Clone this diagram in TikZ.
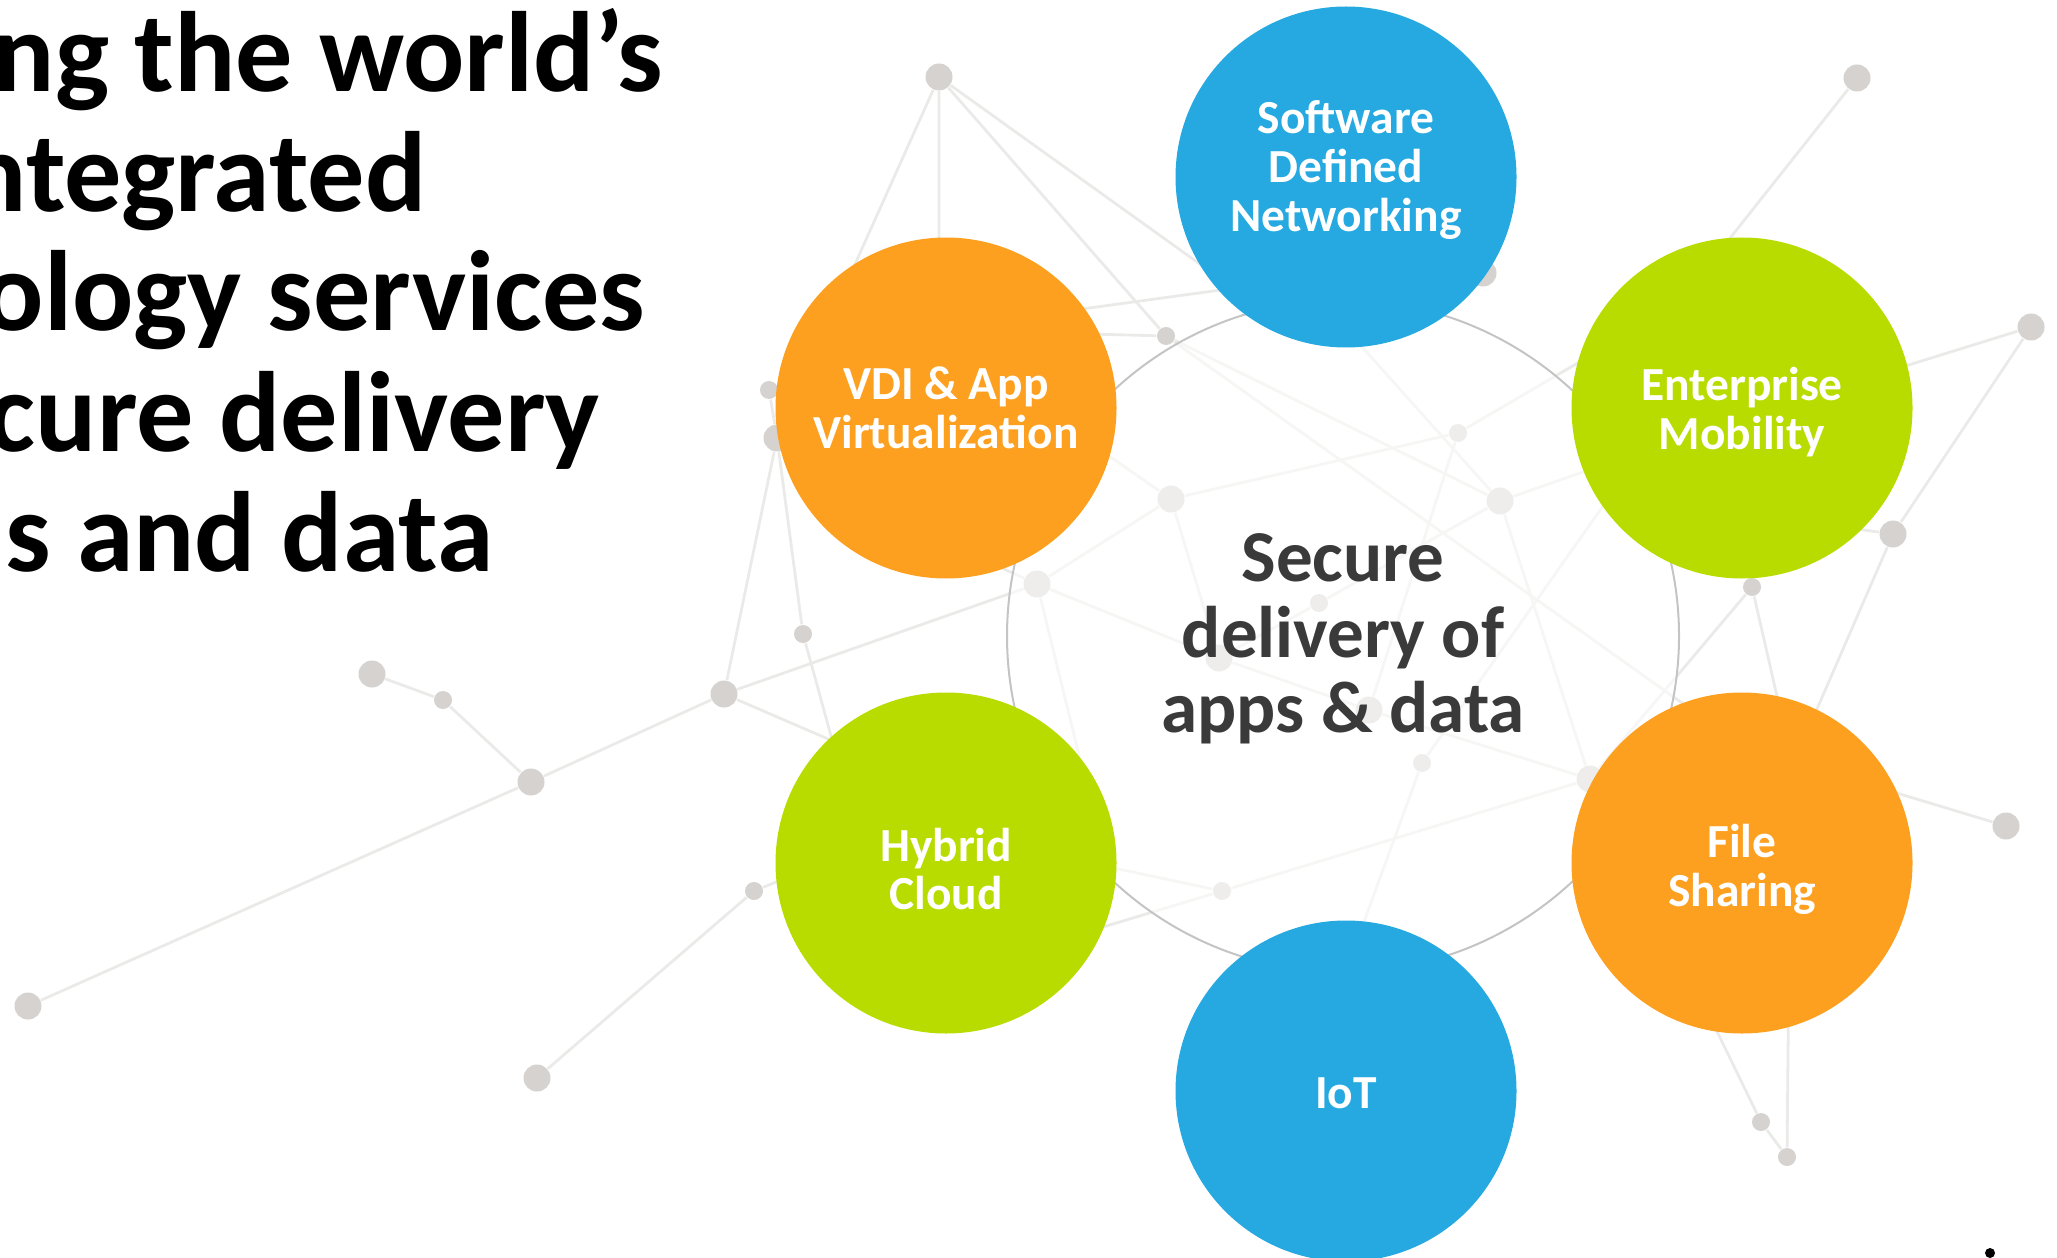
\documentclass[tikz,border=0pt]{standalone}
\usepackage{fontspec}
\setmainfont{Carlito}
\usepackage{xcolor}
\definecolor{sdnblue}{HTML}{25A9E0}
\definecolor{vdiorange}{HTML}{FD9F1F}
\definecolor{mobgreen}{HTML}{B8DC00}
\definecolor{dotgray}{HTML}{D5D2CF}
\definecolor{linegray}{HTML}{EAEAE8}
\definecolor{ringgray}{HTML}{C4C4C4}
\definecolor{textgray}{HTML}{3A3A3A}
\tikzset{
  netline/.style={draw=linegray,line width=0.28mm},
  ringline/.style={draw=ringgray,line width=0.2mm},
  dotbig/.style={circle,fill=dotgray,inner sep=0pt,minimum size=2.7mm},
  dotsmall/.style={circle,fill=dotgray,inner sep=0pt,minimum size=1.8mm},
  bubble/.style={circle,inner sep=0pt,minimum size=34.1mm},
  bubtext/.style={text=white,align=center,inner sep=0pt,
    font=\bfseries\fontsize{13.5}{13.9}\selectfont},
  headline/.style={anchor=base east,inner sep=0pt,
    font=\bfseries\fontsize{32.5}{34}\selectfont}
}

\begin{document}
\begin{tikzpicture}[x=0.1mm,y=-0.1mm]
\useasboundingbox (0,0) rectangle (2057,1258);
\clip (0,0) rectangle (2057,1258);

%dots
\node[dotbig] (a1) at (939,77) {};
\node[dotsmall] (t1) at (769,390) {};
\node[dotbig] (t2) at (777,438) {};
\node[dotsmall] (t3) at (1166,336) {};
\node[dotbig] (t4) at (1483,273) {};
\node[dotbig] (l1) at (372,674) {};
\node[dotsmall] (l2) at (443,700) {};
\node[dotbig] (l3) at (531,782) {};
\node[dotbig] (l4) at (724,694) {};
\node[dotsmall] (l5) at (803,634) {};
\node[dotsmall] (l6) at (754,891) {};
\node[dotbig] (l7) at (537,1078) {};
\node[dotbig] (l8) at (28,1006) {};
\node[dotbig] (r1) at (1857,78) {};
\node[dotbig] (r2) at (2031,327) {};
\node[dotbig] (r3) at (1893,534) {};
\node[dotsmall] (r4) at (1752,587) {};
\node[dotbig] (r5) at (2006,826) {};
\node[dotsmall] (r6) at (1761,1122) {};
\node[dotsmall] (r7) at (1787,1157) {};
\node[dotbig] (c1) at (1171,499) {};
\node[dotbig] (c2) at (1500,501) {};
\node[dotsmall] (c3) at (1458,433) {};
\node[dotbig] (c4) at (1037,584) {};
\node[dotbig] (c5) at (1219,658) {};
\node[dotsmall] (c6) at (1319,603) {};
\node[dotbig] (c7) at (1369,710) {};
\node[dotsmall] (c8) at (1422,763) {};
\node[dotbig] (c9) at (1590,779) {};
\node[dotsmall] (c10) at (1222,891) {};

%ends hidden under the bubbles
\coordinate (vdiA) at (939,300);
\coordinate (vdiC) at (1050,333);
\coordinate (vdiD) at (1060,312);
\coordinate (vdiE) at (1060,422);
\coordinate (vdiF) at (940,540);
\coordinate (sdnA) at (1250,300);
\coordinate (sdnB) at (1250,286);
\coordinate (sdnC) at (1320,300);
\coordinate (entA) at (1600,350);
\coordinate (entB) at (1600,466);
\coordinate (entC) at (1610,496);
\coordinate (entD) at (1820,524);
\coordinate (entE) at (1870,377);
\coordinate (entF) at (1700,276);
\coordinate (hybA) at (900,770);
\coordinate (hybB) at (850,805);
\coordinate (hybC) at (830,860);
\coordinate (hybD) at (1090,800);
\coordinate (hybE) at (1090,863);
\coordinate (hybF) at (1080,934);
\coordinate (fsA) at (1720,730);
\coordinate (fsB) at (1787,740);
\coordinate (fsC) at (1810,725);
\coordinate (fsD) at (1880,788);
\coordinate (fsE) at (1692,980);
\coordinate (fsF) at (1789,950);
\coordinate (iotA) at (1350,960);

%network
\draw[netline] (a1) -- (vdiA) (a1) -- (t2) (a1) -- (t3) (a1) -- (sdnA);
\draw[netline] (t1) -- (t2) (t2) -- (l4) (t2) -- (l5);
\draw[netline] (l1) -- (l2) -- (l3) -- (l4) (l3) -- (l8);
\draw[netline] (l4) -- (c4) (l4) -- (hybA) (l5) -- (hybB);
\draw[netline] (l7) -- (l6) -- (hybC);
\draw[netline] (vdiC) -- (t3) (vdiD) -- (sdnB) (vdiE) -- (c1) (vdiF) -- (c4);
\draw[netline] (t3) -- (c2) (t3) -- (fsA);
\draw[netline] (c4) -- (c1) (c4) -- (c5) (c4) -- (hybD);
\draw[netline] (c1) -- (c3) (c1) -- (c5);
\draw[netline] (c3) -- (entA) (c3) -- (c7);
\draw[netline] (sdnC) -- (c2) (c2) -- (entB) (c2) -- (c6) (c2) -- (c9);
\draw[netline] (c6) -- (c5) (c5) -- (c7) (c7) -- (c9) (c10) -- (c9);
\draw[netline] (c8) -- (iotA) (c8) -- (entC);
\draw[netline] (c10) -- (hybE) (c10) -- (hybF);
\draw[netline] (r4) -- (c9) (r4) -- (fsB);
\draw[netline] (r3) -- (fsC) (r3) -- (entD) (r2) -- (r3) (r2) -- (entE);
\draw[netline] (r1) -- (entF) (r5) -- (fsD);
\draw[netline] (fsE) -- (r6) -- (r7) -- (fsF);

%fade inside the ring
\fill[white,opacity=0.6] (1343,636) circle (336);
\draw[ringline] (1343,636) circle (336);

%bubbles
\node[bubble,fill=sdnblue] (sdn) at (1346,177) {};
\node[bubble,fill=vdiorange] (vdi) at (946,408) {};
\node[bubble,fill=mobgreen] (mob) at (1742,408) {};
\node[bubble,fill=mobgreen] (hyb) at (946,863) {};
\node[bubble,fill=vdiorange] (fs) at (1742,863) {};
\node[bubble,fill=sdnblue] (iot) at (1346,1091) {};
\node[bubtext] (sdnlabel) at (1346,170) {Software\\Defined\\Networking};
\node[bubtext] (vdilabel) at (946,408) {VDI \& App\\Virtualization};
\node[bubtext] (moblabel) at (1742,412) {Enterprise\\Mobility};
\node[bubtext] (hyblabel) at (946,869) {Hybrid\\Cloud};
\node[bubtext] (fslabel) at (1742,869) {File\\Sharing};
\node[bubtext] (iotlabel) at (1346,1093) {IoT};

%center text
\node[text=textgray,align=center,font=\bfseries\fontsize{20.8}{21.5}\selectfont] (core) at (1343,639) {Secure\\delivery of\\apps \& data};

%headline
\node[headline] (hl1) at (664,92) {ng the world’s};
\node[headline] (hl2) at (427,212) {ntegrated};
\node[headline] (hl3) at (646,331) {ology services};
\node[headline] (hl4) at (601,451) {cure delivery};
\node[headline] (hl5) at (494,571) {s and data};

%dot at the bottom edge
\fill (1990,1253) circle (5);
\end{tikzpicture}
\end{document}
